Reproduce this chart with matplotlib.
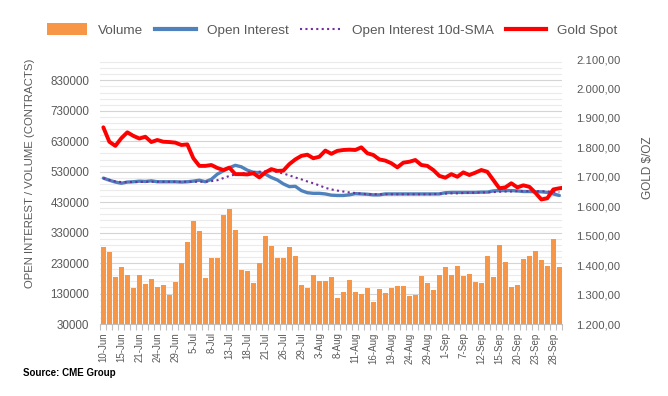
import matplotlib
matplotlib.use("Agg")
import matplotlib.pyplot as plt
import numpy as np
from matplotlib.lines import Line2D
from matplotlib.patches import Patch
from matplotlib.ticker import FixedLocator, FuncFormatter, MultipleLocator

plt.rcParams["font.family"] = ["Liberation Sans", "DejaVu Sans"]

TICK_LABELS = [
    "10-Jun", "15-Jun", "21-Jun", "24-Jun", "29-Jun", "5-Jul", "8-Jul", "13-Jul",
    "18-Jul", "21-Jul", "26-Jul", "29-Jul", "3-Aug", "8-Aug", "11-Aug", "16-Aug",
    "19-Aug", "24-Aug", "29-Aug", "1-Sep", "7-Sep", "12-Sep", "15-Sep", "20-Sep",
    "23-Sep", "28-Sep",
]

# thousands of contracts
VOLUME = [
    283, 268, 184, 217, 191, 148, 191, 161, 177, 151,
    158, 126, 168, 230, 299, 368, 335, 181, 247, 247,
    387, 406, 339, 206, 203, 163, 229, 318, 285, 247,
    247, 282, 252, 157, 147, 190, 170, 170, 183, 115,
    135, 174, 135, 130, 148, 102, 145, 132, 148, 155,
    155, 122, 125, 188, 165, 142, 191, 217, 191, 220,
    188, 194, 168, 165, 253, 184, 289, 234, 151, 158,
    243, 253, 270, 240, 220, 309, 217,
]

OPEN_INTEREST = [
    509, 502, 496, 492, 496, 497, 499, 498, 500, 497,
    497, 497, 497, 496, 497, 499, 502, 497, 505, 522,
    533, 543, 551, 546, 535, 528, 527, 522, 511, 503,
    490, 481, 482, 468, 461, 459, 459, 457, 453, 452,
    452, 454, 458, 457, 456, 454, 454, 457, 457, 457,
    457, 457, 457, 457, 457, 457, 457, 461, 462, 462,
    462, 462, 462, 463, 463, 467, 468, 468, 468, 467,
    465, 465, 464, 464, 462, 457, 452,
]

OI_SMA = [
    509, 503, 498, 496, 496, 496, 496, 497, 497, 497,
    497, 497, 497, 497, 497, 497, 497, 497, 499, 502,
    509, 516, 521, 524, 528, 529, 530, 531, 532, 529,
    524, 518, 511, 505, 498, 492, 485, 477, 472, 468,
    465, 462, 460, 458, 456, 456, 456, 456, 456, 456,
    456, 456, 456, 456, 456, 456, 458, 458, 459, 459,
    460, 461, 461, 462, 462, 463, 464, 465, 465, 466,
    466, 466, 466, 466, 465, 464, 463,
]

GOLD_SPOT = [
    1868, 1819, 1805, 1831, 1851, 1839, 1830, 1836, 1818, 1825,
    1819, 1818, 1816, 1808, 1810, 1763, 1737, 1737, 1740, 1730,
    1723, 1731, 1709, 1709, 1708, 1712, 1698, 1715, 1726, 1720,
    1721, 1743, 1759, 1771, 1775, 1763, 1768, 1789, 1778, 1788,
    1791, 1792, 1791, 1800, 1780, 1774, 1759, 1755, 1746, 1732,
    1748, 1751, 1757, 1740, 1737, 1723, 1703, 1697, 1709, 1700,
    1715, 1706, 1714, 1723, 1717, 1689, 1661, 1664, 1678, 1664,
    1671, 1666, 1646, 1623, 1627, 1657, 1661, 1664,
]

TEXT_GRAY = "#595959"
ORANGE = "#F79646"
BLUE = "#4F81BD"
PURPLE = "#7030A0"
RED = "#FF0000"


def euro_format(value, _pos):
    text = f"{value:,.2f}"
    return text.replace(",", "X").replace(".", ",").replace("X", ".")


count = len(VOLUME)
positions = np.arange(count)
volume = np.asarray(VOLUME) * 1000
open_interest = np.asarray(OPEN_INTEREST) * 1000
oi_sma = np.asarray(OI_SMA) * 1000

figure = plt.figure(figsize=(6.68, 3.96), dpi=100)
axis = figure.add_axes([0.1502, 0.1818, 0.6916, 0.6692])
axis.set_zorder(1)

axis.bar(positions, volume, width=0.76, color=ORANGE, zorder=2)
axis.plot(positions, open_interest, color=BLUE, linewidth=2.4, solid_capstyle="round", zorder=3)
axis.plot(positions, oi_sma, color=PURPLE, linewidth=1.5, linestyle=(0, (1, 1.6)), zorder=4)

axis.set_xlim(-0.5, count - 0.5)
axis.set_ylim(30000, 900000)
axis.yaxis.set_major_locator(FixedLocator(np.arange(30000, 830001, 100000)))
axis.yaxis.set_minor_locator(FixedLocator(np.arange(30000, 900000, 20000)))
axis.grid(axis="y", which="major", color="#d4d4d4", linewidth=0.8, zorder=0)
axis.grid(axis="y", which="minor", color="#ebebeb", linewidth=0.8, zorder=0)
axis.set_axisbelow(True)

axis.set_xticks(positions[::3][: len(TICK_LABELS)])
axis.set_xticklabels(TICK_LABELS, rotation=90, fontsize=7, color=TEXT_GRAY)
axis.xaxis.set_minor_locator(FixedLocator(np.arange(-0.5, count, 1)))
axis.tick_params(axis="x", which="major", length=0, pad=6)
axis.tick_params(axis="x", which="minor", length=4, color="#bfbfbf", width=0.8)
axis.tick_params(axis="y", which="both", length=0, labelsize=8.4, labelcolor=TEXT_GRAY, pad=8)

for side in ["top", "right", "left"]:
    axis.spines[side].set_visible(False)
axis.spines["bottom"].set_color("#bfbfbf")
axis.spines["bottom"].set_linewidth(0.8)

axis.set_ylabel("OPEN INTEREST / VOLUME (CONTRACTS)", fontsize=8.2, color=TEXT_GRAY)
axis.yaxis.set_label_coords(-0.141, 0.57)

gold_axis = axis.twinx()
gold_axis.plot(np.arange(len(GOLD_SPOT)), GOLD_SPOT, color=RED, linewidth=2.8,
               solid_joinstyle="round", solid_capstyle="round", zorder=5)
gold_axis.set_xlim(-0.5, count - 0.5)
gold_axis.set_ylim(1200, 2100)
gold_axis.yaxis.set_major_locator(MultipleLocator(100))
gold_axis.yaxis.set_major_formatter(FuncFormatter(euro_format))
gold_axis.tick_params(axis="y", length=0, labelsize=8.1, labelcolor=TEXT_GRAY, pad=10)
for side in ["top", "right", "left", "bottom"]:
    gold_axis.spines[side].set_visible(False)
gold_axis.set_ylabel("GOLD $/OZ", fontsize=8.5, color=TEXT_GRAY)
gold_axis.yaxis.set_label_coords(1.173, 0.59)

handles = [
    Patch(facecolor=ORANGE, edgecolor="none"),
    Line2D([], [], color=BLUE, linewidth=3),
    Line2D([], [], color=PURPLE, linewidth=1.5, linestyle=(0, (1, 1.6))),
    Line2D([], [], color=RED, linewidth=3),
]
figure.legend(
    handles,
    ["Volume", "Open Interest", "Open Interest 10d-SMA", "Gold Spot"],
    loc="center",
    bbox_to_anchor=(0.497, 0.924),
    ncol=4,
    frameon=False,
    fontsize=9.7,
    labelcolor=TEXT_GRAY,
    handlelength=3.0,
    handleheight=0.9,
    handletextpad=0.8,
    columnspacing=0.9,
)

figure.text(0.034, 0.058, "Source: CME Group", fontsize=7, fontweight="bold",
            color="black", va="center")

figure.savefig("out.png", dpi=100)
plt.close(figure)
